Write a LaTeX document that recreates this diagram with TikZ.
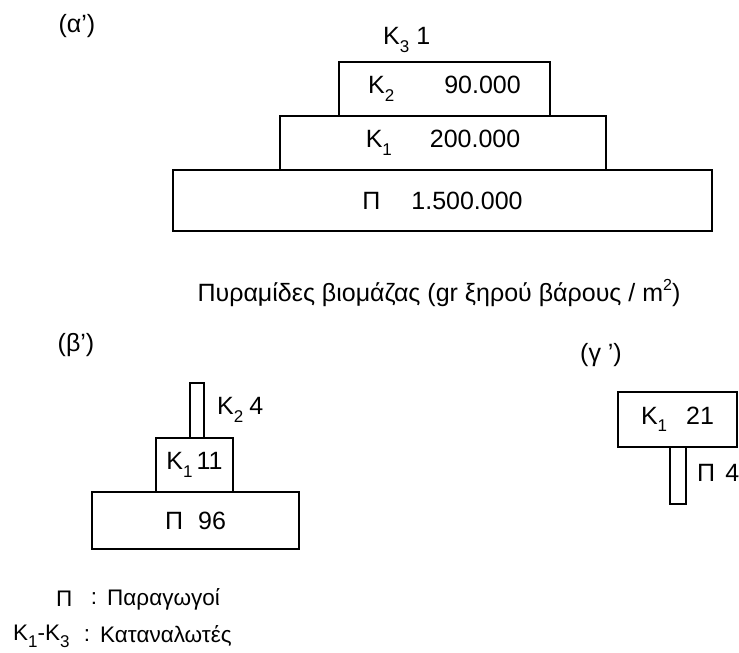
\documentclass[tikz,border=0pt]{standalone}
\usepackage{fontspec}
\setmainfont{Liberation Sans}
\usetikzlibrary{positioning}
\newcommand{\lowidx}[1]{\raisebox{-0.3em}{\fontsize{17}{17}\selectfont #1}}
\newcommand{\highidx}[1]{\raisebox{0.45em}{\fontsize{16}{16}\selectfont #1}}

\tikzset{
 tier/.style={draw, line width=1.1pt, inner sep=0, fill=white},
 lbl/.style={inner sep=0},
 legend/.style={lbl, font=\fontsize{22.5}{26}\selectfont},
}

\begin{document}
\begin{tikzpicture}[x=1pt, y=-1pt, every node/.style={font=\fontsize{25}{29}\selectfont}]
\useasboundingbox (0,0) rectangle (739,653);
% (a) biomass pyramid
\node[lbl] (alpha) at (77,26) {(α’)};
\node[tier, minimum width=539, minimum height=61] (aP) at (442.5,200.5) {Π\hspace{31pt}1.500.000};
\node[tier, minimum width=326, minimum height=54] (aK1) at (443,143) {Κ\lowidx{1}\hspace{38pt}200.000};
\node[tier, minimum width=211, minimum height=54] (aK2) at (444.5,89) {Κ\lowidx{2}\hspace{50pt}90.000};
\node[lbl, anchor=west] (aK3) at (383,40) {Κ\lowidx{3} 1};
\node[lbl] (title) at (439,293) {Πυραμίδες βιομάζας (gr ξηρού βάρους / m\highidx{2})};
% (b)
\node[lbl] (beta) at (76,345) {(β’)};
\node[tier, minimum width=207, minimum height=57] (bP) at (195.5,520.5) {Π\hspace{15pt}96};
\node[tier, minimum width=77, minimum height=54] (bK1) at (194.5,465) {Κ\lowidx{1}\hspace{4pt}11};
\node[tier, minimum width=14, minimum height=55] (bK2) at (197,410.5) {};
\node[lbl, anchor=west] (bK2l) at (217,410) {Κ\lowidx{2}\hspace{6pt}4};
% (c)
\node[lbl] (gamma) at (601,355) {(γ ’)};
\node[tier, minimum width=119, minimum height=55] (gK1) at (677.5,419.5) {Κ\lowidx{1}\hspace{19pt}21};
\node[tier, minimum width=16, minimum height=57] (gP) at (678,475.5) {};
\node[lbl, anchor=west] (gPl) at (697,473) {Π\hspace{10pt}4};
% legend
\node[legend, anchor=west] (lgP) at (56,599) {Π};
\node[legend] (lgPc) at (94,599) {:};
\node[legend, anchor=west] (lgPt) at (107,599) {Παραγωγοί};
\node[legend, anchor=west] (lgK) at (13,636) {Κ\lowidx{1}-Κ\lowidx{3}};
\node[legend] (lgKc) at (87,636) {:};
\node[legend, anchor=west] (lgKt) at (100,636) {Καταναλωτές};
\end{tikzpicture}
\end{document}
